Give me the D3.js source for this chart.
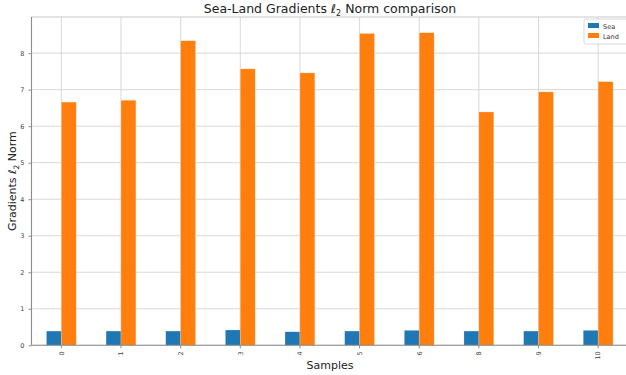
<!DOCTYPE html>
<html>
<head>
<meta charset="utf-8">
<script src="https://cdn.jsdelivr.net/npm/d3@7"></script>
<style>
  html, body { margin: 0; padding: 0; background: #fff; }
  svg { display: block; font-family: "DejaVu Sans", sans-serif; }
</style>
</head>
<body>
<svg id="chart" width="626" height="375"></svg>
<script>
// Sample identifiers (sample 7 is absent from the set)
const samples = ["0", "1", "2", "3", "4", "5", "6", "8", "9", "10"];
// Gradient L2 norms per sample
const seaValues  = [0.39, 0.39, 0.39, 0.42, 0.37, 0.39, 0.41, 0.39, 0.39, 0.41];
const landValues = [6.66, 6.71, 8.34, 7.57, 7.46, 8.54, 8.56, 6.39, 6.94, 7.22];
const seriesNames = ["Sea", "Land"];
const seriesColors = ["#1f77b4", "#ff7f0e"];
const yTicks = [0, 1, 2, 3, 4, 5, 6, 7, 8];

const svg = d3.select("#chart");
const margin = { left: 31.5, right: -2, top: 17, bottom: 30 };
const W = 626, H = 375;
const x0 = margin.left, x1 = W - margin.right;
const y0 = H - margin.bottom + 0.3, y1 = margin.top;

const x = d3.scaleBand().domain(samples).range([x0, x1]).paddingInner(0.5).paddingOuter(0.25);
const xc = d => x(d) + x.bandwidth() / 2;
const sub = d3.scaleBand().domain(seriesNames).range([0, x.bandwidth()]);
const y = d3.scaleLinear().domain([0, 8.99]).range([y0, y1]);

// gridlines
const grid = svg.append("g");
grid.selectAll("line.h").data(yTicks).join("line")
  .attr("x1", x0).attr("x2", x1)
  .attr("y1", d => y(d)).attr("y2", d => y(d))
  .attr("stroke", "#d4d4d4").attr("stroke-width", 0.9);
grid.selectAll("line.v").data(samples).join("line")
  .attr("x1", xc).attr("x2", xc)
  .attr("y1", y0).attr("y2", y1)
  .attr("stroke", "#d4d4d4").attr("stroke-width", 0.9);

// top frame
svg.append("line").attr("x1", x0).attr("x2", x1).attr("y1", y1).attr("y2", y1)
  .attr("stroke", "#c8c8c8").attr("stroke-width", 1);

// bars
const rows = samples.map((s, i) => ({ s, vals: [seaValues[i], landValues[i]] }));
const groups = svg.append("g").selectAll("g").data(rows).join("g")
  .attr("transform", d => `translate(${x(d.s)},0)`);
groups.selectAll("rect").data(d => d.vals.map((v, j) => ({ v, name: seriesNames[j], c: seriesColors[j] })))
  .join("rect")
  .attr("x", d => sub(d.name))
  .attr("width", sub.bandwidth())
  .attr("y", d => y(d.v))
  .attr("height", d => y0 - y(d.v))
  .attr("fill", d => d.c)
  .attr("stroke", "#ffffff").attr("stroke-opacity", 0.35).attr("stroke-width", 0.6);

// axes
const yAxis = svg.append("g").attr("transform", `translate(${x0},0)`)
  .call(d3.axisLeft(y).tickValues(yTicks).tickSize(3).tickPadding(4).tickFormat(d3.format("d")));
const xAxis = svg.append("g").attr("transform", `translate(0,${y0})`)
  .call(d3.axisBottom(x).tickSize(3).tickPadding(3));
[yAxis, xAxis].forEach(a => {
  a.select(".domain").attr("stroke", "#8c8c8c").attr("stroke-width", 1.1);
  a.selectAll(".tick line").attr("stroke", "#8c8c8c");
  a.selectAll("text").attr("fill", "#444").attr("font-size", 6.5)
    .attr("font-family", "DejaVu Sans, sans-serif");
});
xAxis.select(".domain").attr("d", `M${x0},0H${x1}`);
yAxis.select(".domain").attr("d", `M0,${y0}V${y1}`);
xAxis.selectAll(".tick text")
  .attr("transform", "rotate(-90)")
  .attr("text-anchor", "end")
  .attr("dy", "0.35em")
  .attr("x", -6).attr("y", 0);

// title and axis labels
svg.append("text").attr("x", 330).attr("y", 13).attr("text-anchor", "middle")
  .attr("font-size", 12.5).attr("fill", "#222")
  .html('Sea-Land Gradients <tspan font-style="italic">ℓ</tspan><tspan font-size="8" dy="2.5">2</tspan><tspan dy="-2.5"> Norm comparison</tspan>');
svg.append("text").attr("x", 330).attr("y", 369).attr("text-anchor", "middle")
  .attr("font-size", 11).attr("fill", "#222").text("Samples");
svg.append("text").attr("transform", `translate(16,${(y0 + y1) / 2}) rotate(-90)`)
  .attr("text-anchor", "middle").attr("font-size", 11).attr("fill", "#222")
  .html('Gradients <tspan font-style="italic">ℓ</tspan><tspan font-size="7.5" dy="2.5">2</tspan><tspan dy="-2.5"> Norm</tspan>');

// legend
const lg = svg.append("g").attr("transform", "translate(584,19)");
lg.append("rect").attr("width", 50).attr("height", 25).attr("rx", 2)
  .attr("fill", "#fff").attr("fill-opacity", 0.85).attr("stroke", "#d0d0d0").attr("stroke-width", 0.8);
seriesNames.forEach((n, i) => {
  lg.append("rect").attr("x", 4).attr("y", 4 + i * 10).attr("width", 11).attr("height", 5).attr("fill", seriesColors[i]);
  lg.append("text").attr("x", 19).attr("y", 9.5 + i * 10).attr("font-size", 6.5).attr("fill", "#333").text(n);
});
</script>
</body>
</html>
